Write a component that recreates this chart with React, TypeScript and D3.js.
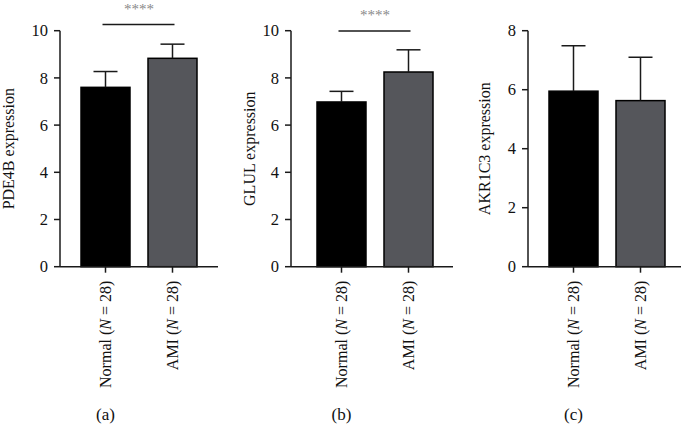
import React from "react";
import * as d3 from "d3";

const groups = ["Normal", "AMI"];
const groupPrefix = ["Normal", "AMI"];
const groupN = [28, 28];
const genes = ["PDE4B", "GLUL", "AKR1C3"];
const panelTags = ["(a)", "(b)", "(c)"];
const means = [
  [7.6, 8.83],
  [6.98, 8.25],
  [5.95, 5.63],
];
const sds = [
  [0.67, 0.6],
  [0.45, 0.94],
  [1.54, 1.47],
];
const yMax = [10, 10, 8];
const yTicks = [
  [0, 2, 4, 6, 8, 10],
  [0, 2, 4, 6, 8, 10],
  [0, 2, 4, 6, 8],
];
const significance = ["****", "****", ""];

const W = 686;
const H = 424;
const FONT = "'Liberation Serif', 'DejaVu Serif', serif";
const barColors = ["#000000", "#55565b"];

// layout per panel: axis x, axis end, first bar left, sig line y
const layout = [
  { axisX: 60, axisEnd: 218, barStart: 81, sigY: 24.5, labelX: 14 },
  { axisX: 291, axisEnd: 453, barStart: 317, sigY: 31, labelX: 255 },
  { axisX: 528, axisEnd: 681, barStart: 549, sigY: 0, labelX: 490 },
];
const yTop = 30.7;
const yBottom = 266.7;
const barSpan = 116;

function Panel({ i }: { i: number }) {
  const L = layout[i];
  const y = d3.scaleLinear().domain([0, yMax[i]]).range([yBottom, yTop]);
  const x = d3
    .scaleBand<string>()
    .domain(groups)
    .range([L.barStart, L.barStart + barSpan])
    .paddingInner(0.2687)
    .paddingOuter(0);
  const bw = x.bandwidth();
  const capW = 24;
  const stroke = "#1a1a1a";
  const cx = (g: string) => (x(g) as number) + bw / 2;
  return (
    <g>
      {groups.map((g, j) => (
        <rect
          key={g}
          x={x(g)}
          y={y(means[i][j])}
          width={bw}
          height={y(0) - y(means[i][j])}
          fill={barColors[j]}
          stroke="#000"
          strokeWidth={1.5}
        />
      ))}
      {groups.map((g, j) => {
        const top = y(means[i][j] + sds[i][j]);
        return (
          <g key={"e" + g} stroke={stroke} strokeWidth={1.5}>
            <line x1={cx(g)} x2={cx(g)} y1={y(means[i][j])} y2={top} />
            <line x1={cx(g) - capW / 2} x2={cx(g) + capW / 2} y1={top} y2={top} />
          </g>
        );
      })}
      <line x1={L.axisX} x2={L.axisX} y1={yTop} y2={yBottom} stroke={stroke} strokeWidth={1.5} />
      {yTicks[i].map((t) => (
        <g key={t}>
          <line x1={L.axisX - 6} x2={L.axisX} y1={y(t)} y2={y(t)} stroke={stroke} strokeWidth={1.5} />
          <text
            x={L.axisX - 12}
            y={y(t)}
            dy="0.35em"
            textAnchor="end"
            fontFamily={FONT}
            fontSize={16.5}
            fill="#111"
          >
            {t}
          </text>
        </g>
      ))}
      <line x1={L.axisX} x2={L.axisEnd} y1={yBottom} y2={yBottom} stroke={stroke} strokeWidth={1.5} />
      {groups.map((g, j) => (
        <g key={"x" + g}>
          <line x1={cx(g)} x2={cx(g)} y1={yBottom} y2={yBottom + 6} stroke={stroke} strokeWidth={1.5} />
          <text
            transform={`translate(${cx(g)},${yBottom + 14}) rotate(-90)`}
            dy="0.35em"
            textAnchor="end"
            fontFamily={FONT}
            fontSize={16}
            fill="#111"
          >
            {groupPrefix[j] + " ("}
            <tspan fontStyle="italic">N</tspan>
            {" = " + groupN[j] + ")"}
          </text>
        </g>
      ))}
      <text
        transform={`translate(${L.labelX},${(yTop + yBottom) / 2}) rotate(-90)`}
        textAnchor="middle"
        fontFamily={FONT}
        fontSize={16}
        fill="#111"
      >
        {genes[i] + " expression"}
      </text>
      {significance[i] && (
        <g>
          <line
            x1={cx(groups[0]) - 3}
            x2={cx(groups[1]) + 2}
            y1={L.sigY}
            y2={L.sigY}
            stroke={stroke}
            strokeWidth={1.5}
          />
          <text
            x={(cx(groups[0]) + cx(groups[1])) / 2}
            y={L.sigY - 11}
            textAnchor="middle"
            fontFamily={FONT}
            fontSize={15}
            fill="#888"
          >
            {significance[i]}
          </text>
        </g>
      )}
      <text
        x={cx(groups[0])}
        y={420}
        textAnchor="middle"
        fontFamily={FONT}
        fontSize={17}
        fill="#111"
      >
        {panelTags[i]}
      </text>
    </g>
  );
}

export default function App() {
  return (
    <svg
      width={W}
      height={H}
      viewBox={`0 0 ${W} ${H}`}
      style={{ position: "absolute", left: 0, top: 0, background: "#fff" }}
    >
      <rect width={W} height={H} fill="#fff" />
      {genes.map((g, i) => (
        <Panel key={g} i={i} />
      ))}
    </svg>
  );
}
